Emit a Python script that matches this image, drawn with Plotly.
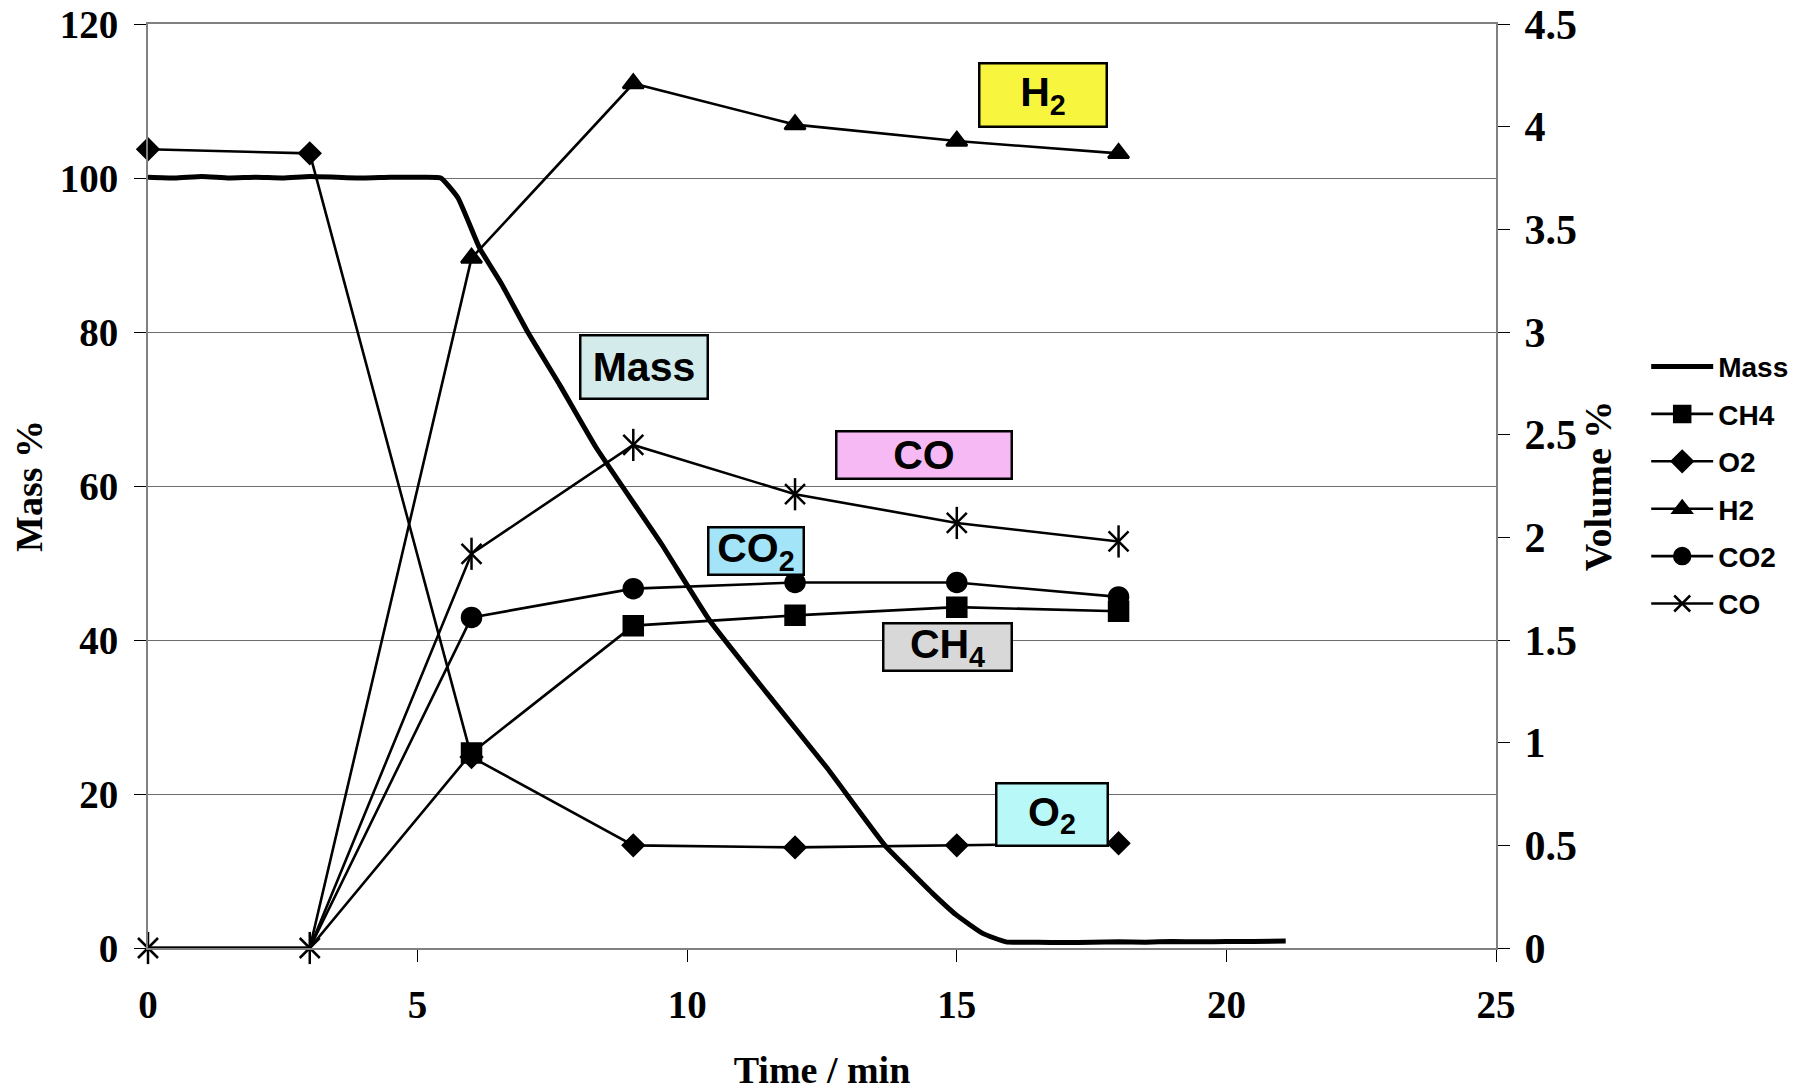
import plotly.graph_objects as go

# ---------------- data ----------------
mass_time = [0, 0.5, 1, 1.5, 2, 2.5, 3, 3.5, 4, 4.5, 5, 5.43, 5.75, 6.15, 6.56, 7.05, 7.63,
             8.31, 9.52, 10.42, 11.49, 12.58, 13.67, 14.12, 14.55, 14.99, 15.48, 15.91,
             16.5, 17, 17.5, 18, 18.5, 19, 19.5, 20, 20.5, 21.1]
mass_pct = [100.1, 100.0, 100.2, 100.0, 100.1, 100.0, 100.2, 100.1, 100.0, 100.1, 100.1, 100.0,
            97.4, 90.9, 86.2, 79.9, 73.2, 65.0, 52.5, 42.5, 33.0, 23.5, 13.3, 10.1, 7.1, 4.3,
            1.9, 0.8, 0.75, 0.7, 0.75, 0.8, 0.75, 0.85, 0.8, 0.85, 0.85, 0.9]

gas_time = [0, 3, 6, 9, 12, 15, 18]
ch4 = [0, 0, 0.95, 1.57, 1.62, 1.66, 1.64]
o2 = [3.89, 3.87, 0.93, 0.50, 0.49, 0.50, 0.51]
h2 = [0, 0, 3.36, 4.21, 4.01, 3.93, 3.87]
co2 = [0, 0, 1.61, 1.75, 1.78, 1.78, 1.71]
co = [0, 0, 1.92, 2.45, 2.21, 2.07, 1.98]

x_ticks = [0, 5, 10, 15, 20, 25]

# label boxes: text, x (time), y (mass %), width px, height px, fill colour
label_text = ["H<sub>2</sub>", "Mass", "CO", "CO<sub>2</sub>", "CH<sub>4</sub>", "O<sub>2</sub>"]
label_x = [16.60, 9.19, 14.39, 11.27, 14.83, 16.76]
label_y = [110.75, 75.48, 64.06, 51.6, 39.14, 17.33]
label_w = [130, 130, 178, 98, 131, 114]
label_h = [66, 66, 50, 50, 50, 65]
label_fill = ["#F7F53E", "#D4EBEB", "#F6B9F4", "#A3E4F8", "#D8D8D8", "#B9F8F8"]

# ---------------- figure ----------------
fig = go.Figure()
LW = 2.6

fig.add_trace(go.Scatter(x=mass_time, y=mass_pct, name="Mass", mode="lines",
                         line=dict(color="black", width=5, shape="spline", smoothing=0.4),
                         yaxis="y", legendgroup="g1"))


def add_gas(name, vals, symbol, size, group, hide_zero_markers):
    if hide_zero_markers:
        # measured points > 0 carry markers; zero readings are drawn as plain line
        first = next(i for i, v in enumerate(vals) if v > 0)
        fig.add_trace(go.Scatter(x=gas_time[:first + 1], y=vals[:first + 1], mode="lines",
                                 line=dict(color="black", width=LW), showlegend=False,
                                 yaxis="y2", legendgroup=group, hoverinfo="skip"))
        xs, ys = gas_time[first:], vals[first:]
    else:
        xs, ys = gas_time, vals
    fig.add_trace(go.Scatter(x=xs, y=ys, name=name, mode="lines+markers",
                             line=dict(color="black", width=LW),
                             marker=dict(symbol=symbol, size=size, color="black", opacity=1,
                                         line=dict(width=2.5, color="black")),
                             yaxis="y2", legendgroup=group, cliponaxis=False))


add_gas("CH4", ch4, "square", 19, "g2", True)
add_gas("O2", o2, "diamond", 16, "g3", False)
add_gas("H2", h2, "triangle-up", 18, "g4", True)
add_gas("CO2", co2, "circle", 19, "g5", True)
add_gas("CO", co, "x-thin-open", 20, "g6", False)
fig.add_trace(go.Scatter(x=gas_time, y=co, name="CO", mode="markers", showlegend=False,
                         marker=dict(symbol="line-ns-open", size=23, color="black",
                                     line=dict(width=2.5, color="black")),
                         yaxis="y2", legendgroup="g6", cliponaxis=False, hoverinfo="skip"))

for t, xv, yv, w, h, c in zip(label_text, label_x, label_y, label_w, label_h, label_fill):
    fig.add_annotation(x=xv, y=yv, xref="x", yref="y", text=t, showarrow=False,
                       width=w - 5, height=h - 5, bgcolor=c, bordercolor="black",
                       borderwidth=2.5, borderpad=0, align="center", valign="middle",
                       font=dict(family="Liberation Sans", size=41, color="black", weight="bold"))

tick_font = dict(family="Liberation Serif", size=39, color="black", weight="bold")
tick_font2 = dict(family="Liberation Serif", size=42, color="black", weight="bold")
title_font = dict(family="Liberation Serif", size=38, color="black", weight="bold")

fig.update_layout(
    width=1819, height=1092,
    margin=dict(l=148, r=323, t=24, b=144),
    paper_bgcolor="white", plot_bgcolor="white",
    showlegend=True,
    legend=dict(xref="container", yref="container", x=0.905, y=0.687,
                xanchor="left", yanchor="top", tracegroupgap=8, itemwidth=62,
                font=dict(family="Liberation Sans", size=28, color="black", weight="bold"),
                bgcolor="rgba(0,0,0,0)", borderwidth=0),
    xaxis=dict(range=[0, 25], tickvals=x_ticks, ticks="outside", ticklen=12,
               tickcolor="black", tickwidth=1, showline=True, linecolor="#808080",
               linewidth=2, mirror=True, showgrid=False, zeroline=False, automargin=False,
               tickfont=tick_font, ticklabelstandoff=9,
               title=dict(text="Time / min", font=title_font, standoff=32)),
    yaxis=dict(range=[0, 120], dtick=20, ticks="outside", ticklen=12, tickcolor="black",
               tickwidth=1, showline=True, linecolor="#808080", linewidth=2,
               showgrid=True, gridcolor="#6e6e6e", gridwidth=1, zeroline=False,
               automargin=False, tickfont=tick_font, ticklabelstandoff=8,
               title=dict(text="Mass %", font=title_font, standoff=5)),
    yaxis2=dict(range=[0, 4.5], dtick=0.5, overlaying="y", side="right",
                ticks="outside", ticklen=12, tickcolor="black", tickwidth=1,
                showline=True, linecolor="#808080", linewidth=2, showgrid=False,
                zeroline=False, automargin=False, tickfont=tick_font2, ticklabelstandoff=6,
                title=dict(text="Volume %", font=title_font, standoff=7)),
)

fig.write_html("out.html")
